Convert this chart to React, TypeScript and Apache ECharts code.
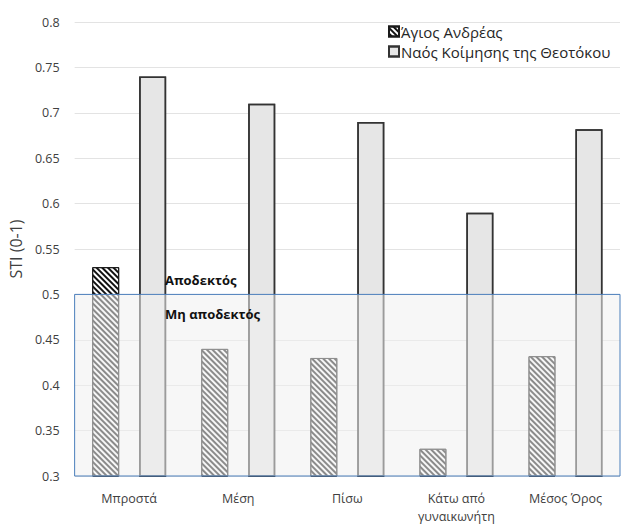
import React, { useEffect, useRef } from "react";
import * as echarts from "echarts";

const categories = ["Μπροστά", "Μέση", "Πίσω", "Κάτω από\nγυναικωνήτη", "Μέσος Όρος"];
const agiosAndreas = [0.53, 0.44, 0.43, 0.33, 0.432];
const naosKoimisis = [0.74, 0.71, 0.69, 0.59, 0.682];
const seriesNames = ["Άγιος Ανδρέας", "Ναός Κοίμησης της Θεοτόκου"];
const yMin = 0.3;
const yMax = 0.8;
const yStep = 0.05;
const threshold = 0.5;
const acceptableText = "Αποδεκτός";
const notAcceptableText = "Μη αποδεκτός";
const yName = "STI (0-1)";

const FONT = "'Open Sans', 'Noto Sans', sans-serif";

export default function App() {
  const ref = useRef<HTMLDivElement>(null);
  useEffect(() => {
    if (!ref.current) return;
    const chart = echarts.init(ref.current, undefined, { renderer: "svg" });
    chart.setOption({
      animation: false,
      backgroundColor: "#ffffff",
      aria: { enabled: true, decal: { show: true } },
      textStyle: { fontFamily: FONT },
      grid: { left: 71, right: 1, top: 22, bottom: 43, containLabel: false },
      legend: {
        data: seriesNames,
        orient: "vertical",
        left: 388,
        top: 24,
        itemWidth: 10,
        itemHeight: 10,
        itemGap: 5,
        padding: 0,
        icon: "rect",
        textStyle: { fontSize: 15, color: "#262626", fontFamily: FONT, padding: [0, 0, 0, -3] },
      },
      xAxis: {
        type: "category",
        data: categories,
        axisLine: { show: false },
        axisTick: { show: false },
        axisLabel: { color: "#404040", fontSize: 12.5, margin: 13, interval: 0, lineHeight: 18, fontFamily: FONT },
      },
      yAxis: {
        type: "value",
        min: yMin,
        max: yMax,
        interval: yStep,
        name: yName,
        nameLocation: "middle",
        nameGap: 37,
        nameTextStyle: { fontSize: 16, color: "#404040", fontFamily: FONT },
        axisLine: { show: false },
        axisTick: { show: false },
        axisLabel: { color: "#404040", fontSize: 12.5, margin: 15, fontFamily: FONT },
        splitLine: { lineStyle: { color: "#e3e3e3", width: 1 } },
      },
      series: [
        {
          name: seriesNames[0],
          type: "bar",
          data: agiosAndreas,
          barWidth: 27,
          barGap: "74%",
          itemStyle: {
            color: "#ffffff",
            borderColor: "#1a1a1a",
            borderWidth: 1,
            decal: {
              symbol: "rect",
              symbolSize: 1,
              color: "#111111",
              dashArrayX: [1, 0],
              dashArrayY: [1.5, 1.5],
              rotation: Math.PI / 4,
            },
          },
        },
        {
          name: seriesNames[1],
          type: "bar",
          data: naosKoimisis,
          barWidth: 27,
          itemStyle: {
            color: "#e6e6e6",
            borderColor: "#333333",
            borderWidth: 1.5,
            decal: {
              symbol: "circle",
              symbolSize: 0.8,
              color: "rgba(60,60,60,0.7)",
              dashArrayX: [1, 2],
              dashArrayY: [1, 2],
              rotation: 0.3,
            },
          },
          markArea: {
            silent: true,
            z: 10,
            itemStyle: {
              color: "rgba(240,240,240,0.55)",
              borderColor: "#4a7ebb",
              borderWidth: 1,
            },
            label: { show: false },
            data: [[{ yAxis: yMin }, { yAxis: threshold }]],
          },
        },
      ],
      graphic: [
        {
          type: "text",
          left: 165,
          top: 273,
          z: 20,
          style: { text: acceptableText, font: `bold 13px ${FONT}`, fill: "#111111" },
        },
        {
          type: "text",
          left: 165,
          top: 307,
          z: 20,
          style: { text: notAcceptableText, font: `bold 13px ${FONT}`, fill: "#111111" },
        },
      ],
    });
    return () => chart.dispose();
  }, []);
  return (
    <div
      ref={ref}
      style={{ position: "absolute", left: 0, top: 0, width: 621, height: 525 }}
    />
  );
}
